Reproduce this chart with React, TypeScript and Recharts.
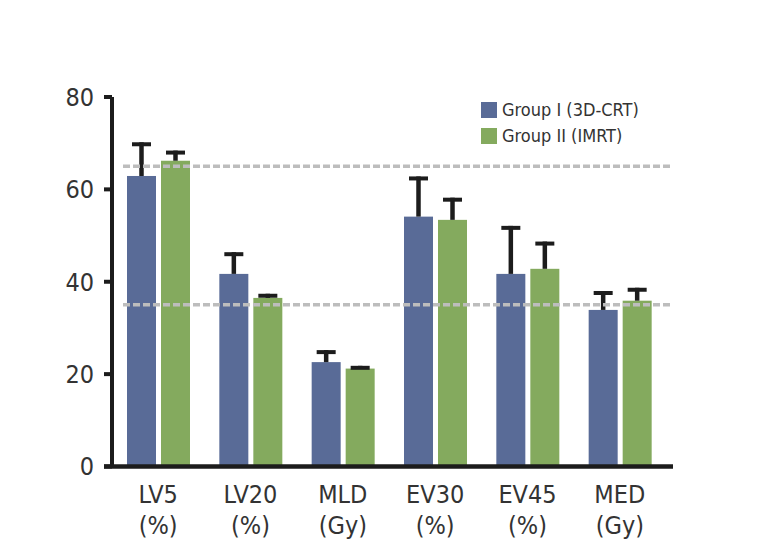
import { BarChart, Bar, XAxis, YAxis, ReferenceLine } from 'recharts';

const categories = ['LV5', 'LV20', 'MLD', 'EV30', 'EV45', 'MED'];
const units = ['(%)', '(%)', '(Gy)', '(%)', '(%)', '(Gy)'];
const group1 = [62.9, 41.7, 22.6, 54.1, 41.7, 33.9];
const group1Err = [7.3, 4.7, 2.6, 8.7, 10.4, 4.1];
const group2 = [66.2, 36.5, 21.2, 53.4, 42.8, 35.9];
const group2Err = [2.2, 0.9, 0.6, 4.8, 5.9, 2.8];
const yTicks = [0, 20, 40, 60, 80];
const refLevels = [35, 65];

const BLUE = '#596b97';
const GREEN = '#84aa5e';
const INK = '#1c1c1c';
const TEXT = '#333333';
const FONT = "'Liberation Sans Narrow', 'DejaVu Sans Condensed', 'Roboto', sans-serif";

const data = categories.map((name, i) => ({
  name,
  unit: units[i],
  g1: group1[i],
  g1Err: group1Err[i],
  g2: group2[i],
  g2Err: group2Err[i],
}));

const series = [
  { key: 'g1', errKey: 'g1Err', color: BLUE, label: 'Group I (3D-CRT)' },
  { key: 'g2', errKey: 'g2Err', color: GREEN, label: 'Group II (IMRT)' },
];

// bar plus an upper-only whisker, scaled from the bar's own px/value ratio
function barWithWhisker(valueKey: string, errKey: string) {
  return (props: any) => {
    const { x, y, width, height, fill, payload } = props;
    const value = payload[valueKey];
    const err = payload[errKey];
    const errPx = value > 0 ? (err * height) / value : 0;
    const cx = x + width / 2;
    return (
      <g>
        <rect x={x} y={y} width={width} height={height} fill={fill} />
        <line x1={cx} x2={cx} y1={y} y2={y - errPx} stroke={INK} strokeWidth={4.5} />
        <rect x={cx - 9.5} y={y - errPx} width={19} height={4} fill={INK} />
      </g>
    );
  };
}

function XTick(props: any) {
  const { x, y, index } = props;
  const d = data[index];
  return (
    <text x={x} y={y} textAnchor="middle" fill={TEXT} fontSize={25} fontFamily={FONT}>
      <tspan x={x} dy={36.5}>{d.name}</tspan>
      <tspan x={x} dy={31}>{d.unit}</tspan>
    </text>
  );
}

function LegendBox() {
  return (
    <div
      style={{
        position: 'absolute',
        left: 473,
        top: 89,
        fontFamily: FONT,
        fontSize: 18,
        color: TEXT,
        lineHeight: 1,
      }}
    >
      {series.map((s) => (
        <div key={s.key} style={{ display: 'flex', alignItems: 'center', height: 26 }}>
          <span style={{ width: 16, height: 16, background: s.color, marginRight: 5 }} />
          <span>{s.label}</span>
        </div>
      ))}
    </div>
  );
}

export default function App() {
  return (
    <div style={{ position: 'relative', width: 750, height: 551 }}>
      <BarChart
        width={750}
        height={551}
        data={data}
        margin={{ top: 89, right: 92, bottom: 32.5, left: 0 }}
        barGap={5}
        barCategoryGap={14}
      >
        {refLevels.map((v) => (
          <ReferenceLine
            key={v}
            y={v}
            ifOverflow="visible"
            shape={(p: any) => (
              <line
                x1={p.x1 + 11}
                x2={p.x2 + 7}
                y1={p.y1}
                y2={p.y2}
                stroke="#bdbdbd"
                strokeWidth={3.5}
                strokeDasharray="7 3"
              />
            )}
          />
        ))}
        <XAxis
          dataKey="name"
          axisLine={false}
          tickLine={false}
          tickSize={0}
          tickMargin={0}
          height={60}
          tick={<XTick />}
          interval={0}
        />
        <YAxis
          width={104}
          domain={[0, 80]}
          ticks={yTicks}
          axisLine={{ stroke: INK, strokeWidth: 4 }}
          tickLine={{ stroke: INK, strokeWidth: 4 }}
          tickSize={8}
          tickMargin={10}
          tick={{ fill: TEXT, fontSize: 25, fontFamily: FONT }}
        />
        {series.map((s) => (
          <Bar
            key={s.key}
            dataKey={s.key}
            fill={s.color}
            barSize={29}
            isAnimationActive={false}
            shape={barWithWhisker(s.key, s.errKey)}
          />
        ))}
        <ReferenceLine
          y={0}
          ifOverflow="visible"
          shape={(p: any) => (
            <line x1={p.x1 - 8} x2={p.x2 + 7} y1={p.y1} y2={p.y2} stroke={INK} strokeWidth={4.5} />
          )}
        />
      </BarChart>
      <LegendBox />
    </div>
  );
}
